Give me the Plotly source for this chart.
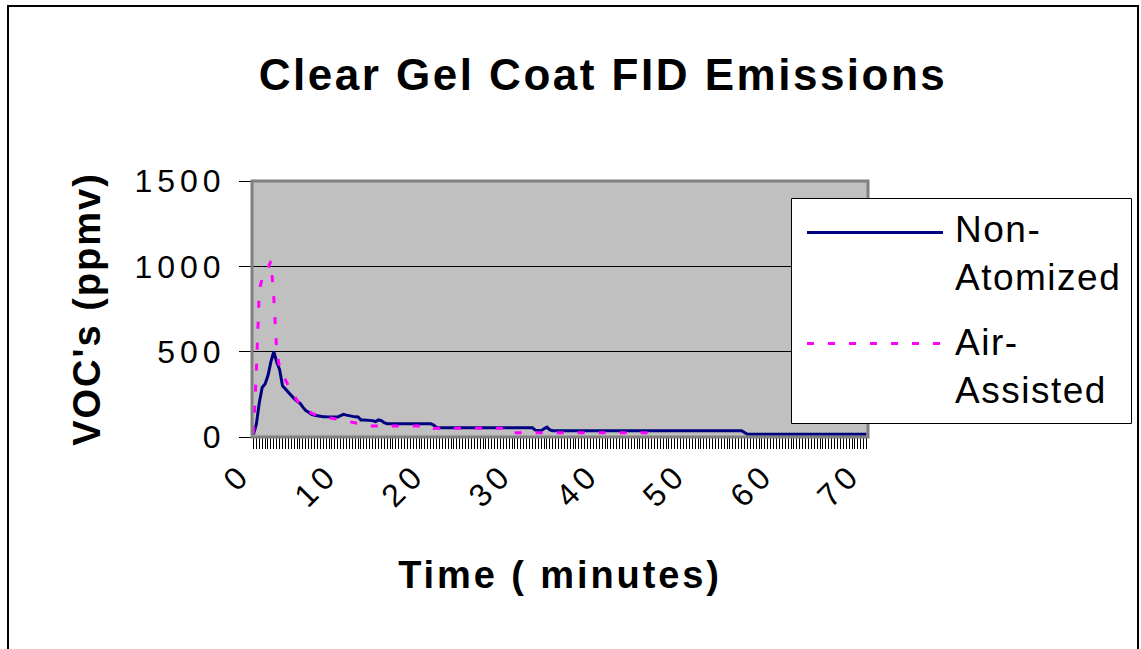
import plotly.graph_objects as go

# FID readings (ppmv), one sample every 20 seconds
non_atomized = (
    [15, 75, 200, 290, 310, 360, 440, 500, 440, 395,
     300, 280, 265, 245, 225, 210, 198, 175, 155, 145,
     132, 127, 123, 120, 119, 118, 118, 118, 118, 117,
     125, 133, 128, 124, 120, 118, 117, 100, 99, 98,
     97, 96, 90, 100, 96, 84, 78]
    + [78, 78, 78, 78, 78, 78, 78, 78, 78, 78, 78, 78, 78, 78, 78]
    + [70, 56]
    + [54, 54, 54, 54, 54, 54, 54, 54, 54, 54, 54, 54, 54, 54, 54, 54, 54,
       54, 54, 54, 54, 54, 54, 54, 54, 54, 54, 54, 54, 54, 54, 54, 54]
    + [40, 37, 37, 48, 58, 42]
    + [37, 37, 37, 37, 37, 37, 37, 37, 37, 37, 37, 37, 37, 37, 37, 37, 37,
       37, 37, 37, 37, 37, 37, 37, 37, 37, 37, 37, 37, 37, 37, 37, 37,
       37, 37, 37, 37, 37, 37, 37, 37, 37, 37, 37, 37, 37, 37, 37, 37,
       37, 37, 37, 37, 37, 37, 37, 37, 37, 37, 37, 37, 37, 37, 37, 37, 37]
    + [26]
    + [16, 16, 16, 16, 16, 16, 16, 16, 16, 16, 16, 16, 16, 16, 16, 16, 16,
       16, 16, 16, 16, 16, 16, 16, 16, 16, 16, 16, 16, 16, 16, 16, 16,
       16, 16, 16, 16, 16, 16, 16, 16, 16]
)

air_assisted = (
    [20, 380, 860, 930, 960, 990, 1030, 820, 500, 410,
     370, 330, 300, 270, 240, 215, 195, 180, 165, 150,
     140, 133, 128, 124, 120, 116, 112, 110, 107, 104,
     101, 98, 95, 91, 87, 84, 80, 76, 72, 68,
     65]
    + [64, 64, 64, 64, 64, 64, 64, 64, 64, 64, 64, 64, 64, 64, 64, 64, 64,
       64, 64, 64, 64]
    + [51, 51, 51, 51, 51, 51, 51, 51, 51, 51, 51, 51, 51, 51, 51, 51, 51,
       51, 51, 51, 51, 51, 51, 51, 51, 51]
    + [25, 25, 25, 25, 25, 25, 25, 25, 25, 25, 25, 25, 25, 25, 25, 25, 25,
       25, 25, 25, 25, 25, 25, 25, 25, 25, 25, 25, 25, 25, 25, 25, 25,
       25, 25, 25, 25, 25, 25, 25, 25, 25, 25, 25, 25, 25, 25, 25, 25, 25]
)

SAMPLE_MIN = 1 / 3
n_samples = len(non_atomized)
time_non = [k * SAMPLE_MIN for k in range(len(non_atomized))]
time_air = [k * SAMPLE_MIN for k in range(len(air_assisted))]

x_tick_vals = [0, 10, 20, 30, 40, 50, 60, 70]
y_tick_vals = [0, 500, 1000, 1500]
series_names = ["Non-<br>Atomized", "Air-<br>Assisted"]

NAVY = "#000080"
MAGENTA = "#FF00FF"
FONT = "Liberation Sans, Arial, sans-serif"

W, H = 1141, 649
PL, PR, PT, PB = 252, 868, 181, 437


def fx(px):
    return (px - PL) / (PR - PL)


def fy(py):
    return (PB - py) / (PB - PT)


fig = go.Figure()
fig.add_trace(go.Scatter(
    x=time_non, y=non_atomized, mode="lines", name="Non-Atomized",
    line=dict(color=NAVY, width=3), showlegend=False,
))
fig.add_trace(go.Scatter(
    x=time_air, y=air_assisted, mode="lines", name="Air-Assisted",
    line=dict(color=MAGENTA, width=3, dash="7px,14px"), showlegend=False,
))

shapes = [
    # plot-area border
    dict(type="rect", xref="paper", yref="paper", x0=0, x1=1, y0=0, y1=1,
         line=dict(color="#808080", width=3), layer="above"),
    # outer chart frame
    dict(type="rect", xref="paper", yref="paper",
         x0=fx(8), x1=fx(1138), y0=fy(652), y1=fy(6),
         line=dict(color="#000000", width=2)),
    # legend box
    dict(type="rect", xref="paper", yref="paper",
         x0=fx(791.5), x1=fx(1131.5), y0=fy(423.5), y1=fy(198.5),
         line=dict(color="#000000", width=1), fillcolor="white"),
    # legend line samples
    dict(type="line", xref="paper", yref="paper",
         x0=fx(807), x1=fx(943), y0=fy(232.5), y1=fy(232.5),
         line=dict(color=NAVY, width=3)),
    dict(type="line", xref="paper", yref="paper",
         x0=fx(807), x1=fx(943), y0=fy(343.5), y1=fy(343.5),
         line=dict(color=MAGENTA, width=3, dash="7px,14px")),
]

annotations = [
    dict(text=series_names[0], xref="paper", yref="paper",
         x=fx(953), y=fy(253), xanchor="left", yanchor="middle",
         showarrow=False, align="left",
         font=dict(family=FONT, size=37, color="black")),
    dict(text=series_names[1], xref="paper", yref="paper",
         x=fx(953), y=fy(366), xanchor="left", yanchor="middle",
         showarrow=False, align="left",
         font=dict(family=FONT, size=37, color="black")),
]

fig.update_layout(
    width=W, height=H,
    margin=dict(l=PL, r=W - PR, t=PT, b=H - PB, autoexpand=False),
    paper_bgcolor="white",
    plot_bgcolor="#C0C0C0",
    title=dict(
        text="Clear Gel Coat FID Emissions",
        x=603 / W, xref="container", xanchor="center",
        y=1 - 75 / H, yref="container", yanchor="middle",
        font=dict(family=FONT, size=44, color="black", weight="bold"),
    ),
    xaxis=dict(
        range=[-SAMPLE_MIN / 2, (n_samples - 1) * SAMPLE_MIN + SAMPLE_MIN / 2],
        tickmode="array", tickvals=x_tick_vals,
        ticktext=[str(v) for v in x_tick_vals],
        tickangle=-45,
        ticks="outside", ticklen=11, tickwidth=1, tickcolor="black",
        minor=dict(dtick=SAMPLE_MIN, tick0=0, ticks="outside", ticklen=11,
                   tickwidth=1, tickcolor="black", showgrid=False),
        showgrid=False, zeroline=False, showline=False,
        tickfont=dict(family=FONT, size=32, color="black"),
        ticklabelstandoff=-6,
        ticklabelshift=-12,
        title=dict(text="Time ( minutes)", standoff=55,
                   font=dict(family=FONT, size=38, color="black", weight="bold")),
    ),
    yaxis=dict(
        range=[0, 1500],
        tickmode="array", tickvals=y_tick_vals,
        ticks="outside", ticklen=12, tickwidth=1, tickcolor="black",
        showgrid=True, gridcolor="black", gridwidth=1,
        zeroline=False, showline=False,
        tickfont=dict(family=FONT, size=32, color="black"),
        ticklabelstandoff=7,
        title=dict(text="VOC's (ppmv)", standoff=42,
                   font=dict(family=FONT, size=38, color="black", weight="bold")),
    ),
    shapes=shapes,
    annotations=annotations,
)

# widen the character spacing of the chart texts once the plot is drawn
letter_spacing_js = """
var gd = document.getElementById('{plot_id}');
function spaceOut(sel, v) {
    gd.querySelectorAll(sel).forEach(function (el) { el.style.letterSpacing = v; });
}
spaceOut('.gtitle', '2.5px');
spaceOut('.xtitle', '2.9px');
spaceOut('.ytitle', '2px');
spaceOut('.xtick text', '5px');
spaceOut('.ytick text', '5px');
spaceOut('.annotation-text', '1.5px');
"""

fig.write_html("out.html", config={"displayModeBar": False},
               post_script=letter_spacing_js)
